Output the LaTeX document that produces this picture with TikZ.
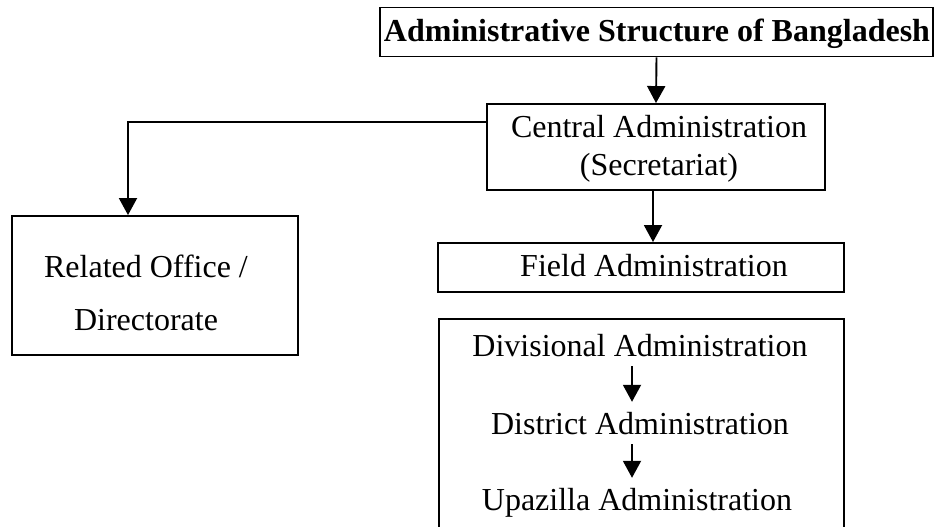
\documentclass[tikz,border=0pt]{standalone}
\usepackage{fontspec}
\setmainfont{Liberation Serif}
\usetikzlibrary{arrows.meta}
\begin{document}
\begin{tikzpicture}[x=1pt,y=-1pt,
  box/.style={draw, line width=1.9pt, inner sep=0pt},
  txt/.style={font=\fontsize{32}{38}\selectfont, inner xsep=0pt, inner ysep=10pt, text height=22pt, text depth=0pt, anchor=base},
  arr/.style={line width=1.9pt, -{Triangle[width=18pt,length=17pt]}}
]
\useasboundingbox (0,0) rectangle (937,527);
\clip (0,0) rectangle (937,527);
% boxes
\node[box, minimum width=553pt, minimum height=49pt] (title) at (656.5,32) {};
\node[box, minimum width=338pt, minimum height=86pt] (central) at (656,147) {};
\node[box, minimum width=286pt, minimum height=139pt] (related) at (155,285.5) {};
\node[box, minimum width=406pt, minimum height=49pt] (field) at (641,267.5) {};
\node[box, minimum width=405pt, minimum height=240pt] (lower) at (641.5,439) {};
% texts
\node[txt, font=\fontsize{32}{38}\selectfont\bfseries] (ttitle) at (657,42) {Administrative Structure of Bangladesh};
\node[txt] (tcen1) at (659,137) {Central Administration};
\node[txt] (tcen2) at (659,175) {(Secretariat)};
\node[txt] (trel1) at (146,277) {Related Office /};
\node[txt] (trel2) at (146,330) {Directorate};
\node[txt] (tfield) at (654,276) {Field Administration};
\node[txt] (div) at (640,356) {Divisional Administration};
\node[txt] (dist) at (640,434) {District Administration};
\node[txt] (upa) at (637,510) {Upazilla Administration};
% connectors
\draw[arr] (title.south) -- (central.north);
\draw[arr] ([yshift=25pt]central.west) -| ([xshift=-27pt]related.north);
\draw[arr] ([xshift=-3pt]central.south) -- ([xshift=-3pt]central.south |- field.north);
\draw[arr] ([xshift=-8pt]div.south) -- ([xshift=-8pt]div.south |- dist.north);
\draw[arr] ([xshift=-8pt]dist.south) -- ([xshift=-8pt]dist.south |- upa.north);
\end{tikzpicture}
\end{document}
